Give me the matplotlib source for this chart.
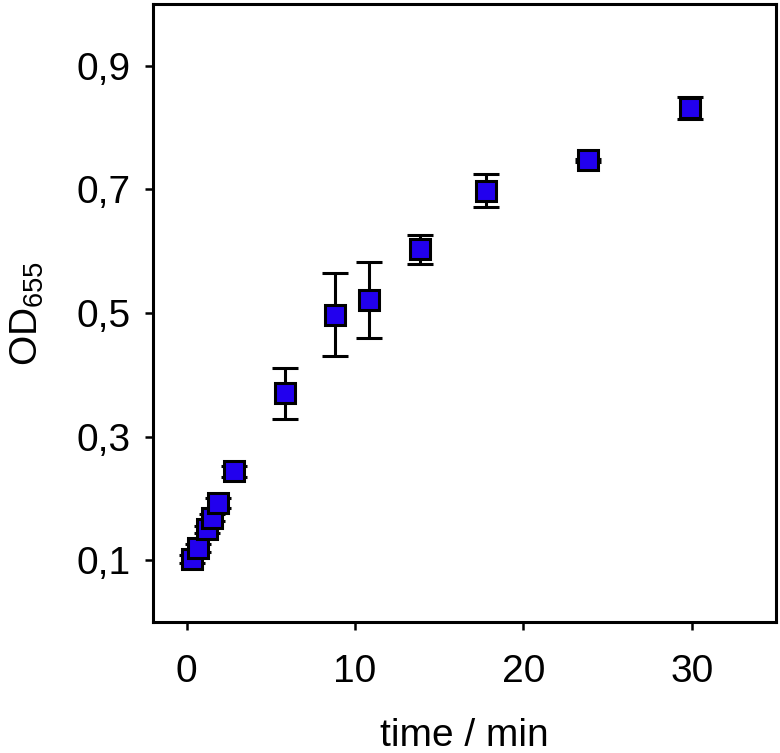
import matplotlib
matplotlib.use("Agg")
import matplotlib.pyplot as plt
from matplotlib.ticker import FuncFormatter

time_min = [0.32, 0.67, 1.18, 1.53, 1.84, 2.84, 5.84, 8.81, 10.82, 13.87, 17.8, 23.82, 29.87]
od655 = [0.102, 0.120, 0.150, 0.169, 0.192, 0.244, 0.370, 0.497, 0.521, 0.603, 0.698, 0.747, 0.832]
od_err = [0.006, 0.006, 0.006, 0.006, 0.008, 0.009, 0.041, 0.067, 0.061, 0.023, 0.027, 0.002, 0.018]

x_ticks = [0, 10, 20, 30]
y_ticks = [0.1, 0.3, 0.5, 0.7, 0.9]

plt.rcParams['font.family'] = ['Liberation Sans', 'DejaVu Sans']
plt.rcParams['mathtext.fontset'] = 'custom'
plt.rcParams['mathtext.rm'] = 'Liberation Sans'
plt.rcParams['mathtext.it'] = 'Liberation Sans'
plt.rcParams['mathtext.default'] = 'regular'

fig = plt.figure(figsize=(7.8, 7.53), dpi=100)
ax = fig.add_axes([153/780, 1-622/753, (776-153)/780, (622-4)/753])

ax.errorbar(time_min, od655, yerr=od_err, fmt='s', color='black',
            ecolor='black', elinewidth=2.2, capsize=9.4, capthick=2.2,
            markersize=14.5, markerfacecolor='#2200EE', markeredgecolor='black',
            markeredgewidth=2.2, zorder=3)

ax.set_xlim(-2, 35)
ax.set_ylim(0, 1.0)
ax.set_xticks(x_ticks)
ax.set_yticks(y_ticks)
ax.yaxis.set_major_formatter(FuncFormatter(lambda v, p: f"{v:.1f}".replace('.', ',')))

for s in ax.spines.values():
    s.set_linewidth(2.2)

ax.tick_params(axis='both', direction='out', length=6, width=1.8, labelsize=28)
ax.tick_params(axis='x', pad=17)
ax.tick_params(axis='y', pad=10)

ax.set_xlabel('time / min', fontsize=28, labelpad=20)
ax.set_ylabel('OD$_{655}$', fontsize=28, labelpad=22)

fig.savefig('out.png', dpi=100)
